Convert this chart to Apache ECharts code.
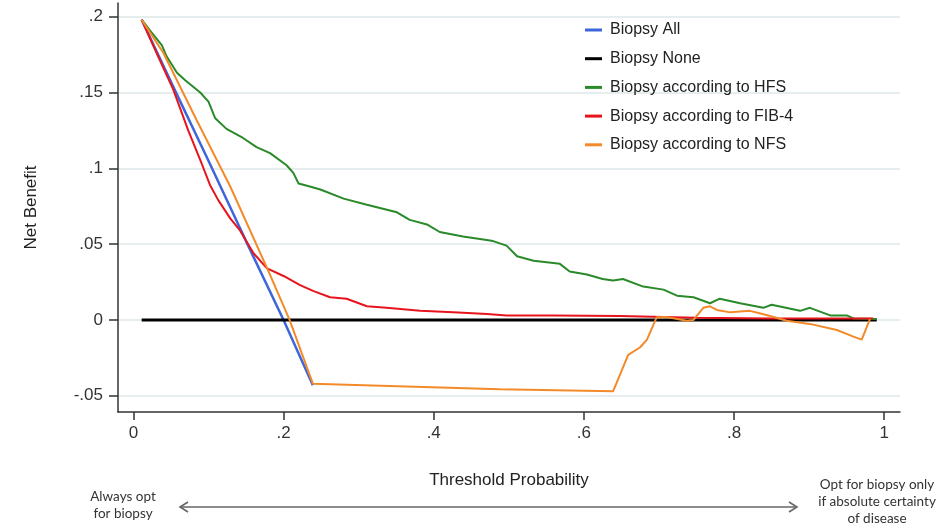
<!DOCTYPE html>
<html>
<head>
<meta charset="utf-8">
<script src="https://cdn.jsdelivr.net/npm/echarts@6/dist/echarts.min.js"></script>
<style>
html,body{margin:0;padding:0;background:#fff;}
#chart{width:946px;height:529px;}
</style>
</head>
<body>
<div id="chart"></div>
<script>
// ---- data ----
const seriesNames = ['Biopsy All', 'Biopsy None', 'Biopsy according to HFS', 'Biopsy according to FIB-4', 'Biopsy according to NFS'];
const xTicks = [0, 0.2, 0.4, 0.6, 0.8, 1];
const yTicks = [-0.05, 0, 0.05, 0.1, 0.15, 0.2];

const biopsyAll = [[0.011,0.198],[0.05,0.157],[0.1,0.105],[0.15,0.052],[0.2,0.000],[0.239,-0.043]];
const biopsyNone = [[0.011,0],[0.99,0]];
const biopsyHFS = [
  [0.011,0.198],[0.022,0.191],[0.038,0.181],[0.044,0.174],[0.058,0.163],[0.069,0.158],
  [0.089,0.150],[0.100,0.144],[0.109,0.133],[0.124,0.126],[0.146,0.120],[0.164,0.114],
  [0.182,0.110],[0.204,0.102],[0.213,0.097],[0.220,0.090],[0.235,0.088],[0.249,0.086],
  [0.280,0.080],[0.311,0.076],[0.351,0.071],[0.368,0.066],[0.391,0.063],[0.408,0.058],
  [0.439,0.055],[0.466,0.053],[0.479,0.052],[0.497,0.049],[0.511,0.042],[0.533,0.039],
  [0.568,0.037],[0.581,0.032],[0.604,0.030],[0.625,0.027],[0.639,0.026],[0.652,0.027],
  [0.679,0.022],[0.706,0.020],[0.724,0.016],[0.746,0.015],[0.768,0.011],[0.781,0.014],
  [0.808,0.011],[0.839,0.008],[0.850,0.010],[0.888,0.006],[0.901,0.008],[0.928,0.003],
  [0.950,0.003],[0.959,0.001],[0.990,0.0007]
];
const biopsyFIB4 = [
  [0.011,0.198],[0.03,0.177],[0.053,0.152],[0.073,0.125],[0.091,0.103],[0.102,0.089],
  [0.113,0.079],[0.129,0.067],[0.142,0.059],[0.160,0.044],[0.178,0.034],[0.200,0.029],
  [0.222,0.023],[0.240,0.019],[0.262,0.015],[0.284,0.014],[0.311,0.009],[0.337,0.008],
  [0.382,0.006],[0.426,0.005],[0.471,0.004],[0.497,0.003],[0.559,0.003],[0.648,0.0026],
  [0.75,0.0015],[0.85,0.001],[0.985,0.001]
];
const biopsyNFS = [
  [0.011,0.198],[0.040,0.176],[0.084,0.132],[0.129,0.088],[0.180,0.032],[0.208,0],
  [0.239,-0.042],[0.488,-0.0457],[0.639,-0.047],[0.659,-0.023],[0.675,-0.018],[0.684,-0.013],
  [0.697,0.0018],[0.710,0.002],[0.737,-0.0005],[0.746,0],[0.759,0.008],[0.768,0.009],
  [0.777,0.0066],[0.795,0.005],[0.821,0.006],[0.834,0.0044],[0.848,0.0026],[0.870,-0.0005],
  [0.901,-0.0026],[0.937,-0.0066],[0.959,-0.011],[0.970,-0.013],[0.981,0.0005]
];

const seriesData = [biopsyAll, biopsyNone, biopsyHFS, biopsyFIB4, biopsyNFS];
const seriesColors = ['#3e66da', '#000000', '#2a8a2a', '#e8141c', '#f38a2a'];
const seriesWidths = [2.5, 3, 2, 2, 2];

function stataFmt(v) {
  let s = String(+(+v).toFixed(4));
  return s.replace(/^(-?)0\./, '$1.');
}

const chart = echarts.init(document.getElementById('chart'), null, {renderer: 'canvas'});
const FONT = 'Liberation Sans, Arial, sans-serif';
const NOTE_FONT = 'Lato, "Open Sans", sans-serif';

const option = {
  animation: false,
  backgroundColor: '#ffffff',
  grid: {left: 118, right: 46, top: 3, bottom: 117, containLabel: false},
  legend: {
    orient: 'vertical',
    left: 580, top: 15,
    icon: 'rect', itemWidth: 17, itemHeight: 3, itemGap: 8.7,
    textStyle: {fontFamily: FONT, fontSize: 16, color: '#222', lineHeight: 20, padding: [0,0,0,3]},
    data: seriesNames
  },
  xAxis: {
    type: 'value', min: -0.0205, max: 1.021,
    name: 'Threshold Probability', nameLocation: 'middle', nameGap: 60,
    nameTextStyle: {fontFamily: FONT, fontSize: 17, color: '#222'},
    axisLine: {show: true, onZero: false, lineStyle: {color: '#333', width: 1.5}},
    axisTick: {show: true, length: 8, lineStyle: {color: '#333', width: 1.5}, customValues: xTicks},
    axisLabel: {fontFamily: FONT, fontSize: 17, color: '#333', margin: 13, customValues: xTicks, formatter: stataFmt},
    splitLine: {show: false}
  },
  yAxis: {
    type: 'value', min: -0.0607, max: 0.209,
    name: 'Net Benefit', nameLocation: 'middle', nameGap: 78, nameRotate: 90,
    nameTextStyle: {fontFamily: FONT, fontSize: 17, color: '#222'},
    axisLine: {show: true, onZero: false, lineStyle: {color: '#333', width: 1.5}},
    axisTick: {show: true, length: 9, lineStyle: {color: '#333', width: 1.5}, customValues: yTicks},
    axisLabel: {fontFamily: FONT, fontSize: 17, color: '#333', margin: 15, customValues: yTicks, formatter: stataFmt},
    splitLine: {show: true, lineStyle: {color: '#e6edef', width: 2}}
  },
  series: seriesNames.map((n, i) => ({
    name: n, type: 'line', data: seriesData[i], symbol: 'none', smooth: false,
    color: seriesColors[i],
    lineStyle: {color: seriesColors[i], width: seriesWidths[i]},
    z: 2 + i
  })),
  graphic: [
    {type: 'text', x: 123, y: 488, style: {text: 'Always opt\nfor biopsy', font: '13.5px ' + NOTE_FONT, fill: '#333', lineHeight: 17, align: 'center', verticalAlign: 'top'}},
    {type: 'text', x: 877, y: 476, style: {text: 'Opt for biopsy only\nif absolute certainty\nof disease', font: '13.5px ' + NOTE_FONT, fill: '#333', lineHeight: 17, align: 'center', verticalAlign: 'top'}},
    {type: 'line', shape: {x1: 180, y1: 507, x2: 797, y2: 507}, style: {stroke: '#666', lineWidth: 1.6}},
    {type: 'polyline', shape: {points: [[188, 502], [180, 507], [188, 512]]}, style: {stroke: '#666', lineWidth: 1.6, fill: null}},
    {type: 'polyline', shape: {points: [[789, 502], [797, 507], [789, 512]]}, style: {stroke: '#666', lineWidth: 1.6, fill: null}}
  ]
};
chart.setOption(option);
</script>
</body>
</html>
